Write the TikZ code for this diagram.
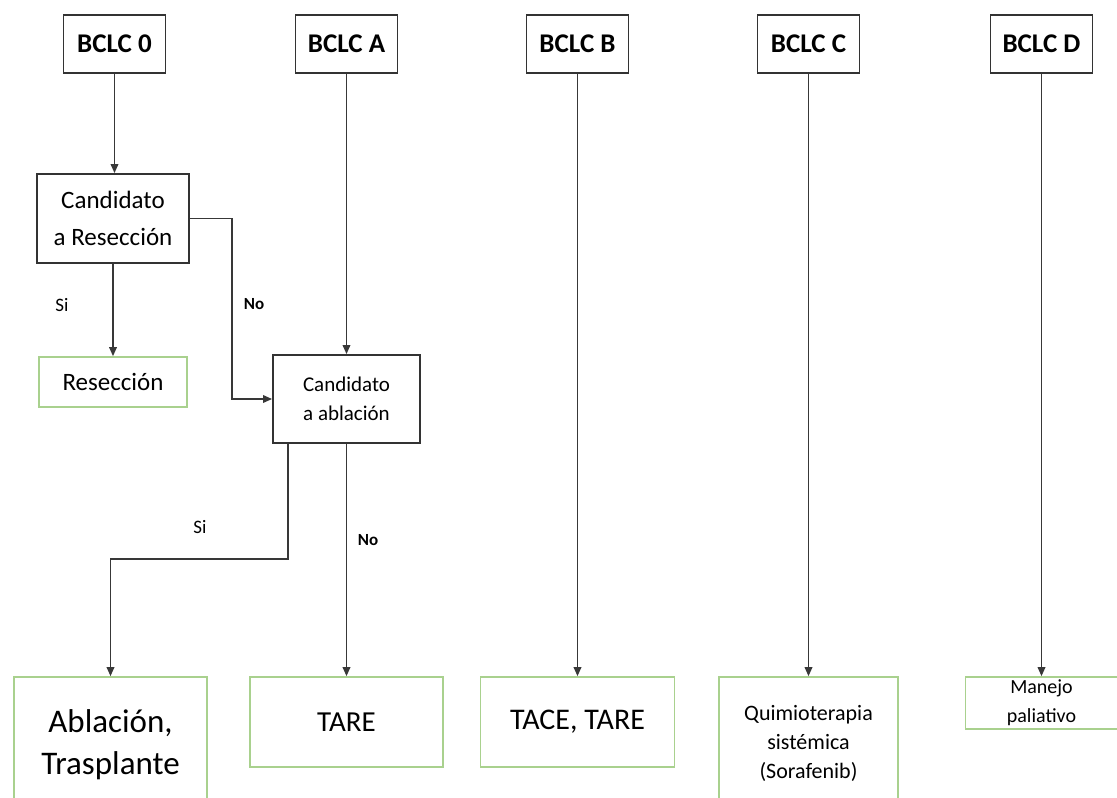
\documentclass[tikz,border=0pt]{standalone}
\usepackage{fontspec}
\setmainfont{Carlito}
\usetikzlibrary{arrows.meta}

\begin{document}
\begin{tikzpicture}[
        x=1pt,y=-1pt,
        stage/.style={draw=black!80,line width=1.8pt,fill=white,inner sep=0pt,
            minimum width=102pt,minimum height=58pt,
            font=\bfseries\fontsize{27}{30}\selectfont},
        question/.style={draw=black!80,line width=1.8pt,fill=white,inner sep=0pt,align=center},
        therapy/.style={draw={rgb,255:red,169;green,209;blue,142},
            line width=1.6pt,fill=white,inner sep=0pt,align=center},
        flow/.style={draw=black!78,line width=1.7pt,-{Triangle[length=9pt,width=7.5pt]}},
        answer/.style={inner sep=0pt,font=\fontsize{19}{22}\selectfont},
        answerbold/.style={inner sep=0pt,font=\bfseries\fontsize{17}{20}\selectfont}
    ]
    \useasboundingbox (0,0) rectangle (1117,798);

    % stages
    \node[stage] (bclc0) at (114.5,44) {BCLC 0};
    \node[stage] (bclcA) at (346.5,44) {BCLC A};
    \node[stage] (bclcB) at (577.5,44) {BCLC B};
    \node[stage] (bclcC) at (808.5,44) {BCLC C};
    \node[stage] (bclcD) at (1041.5,44) {BCLC D};

    % decisions
    \node[question,minimum width=152pt,minimum height=89pt,
        font=\fontsize{25}{37}\selectfont] (candres) at (113,218.5)
        {Candidato\\a Resección};
    \node[question,minimum width=147pt,minimum height=88pt,
        font=\fontsize{21}{29}\selectfont] (candabl) at (346.5,399)
        {Candidato\\a ablación};

    % treatments
    \node[therapy,minimum width=148pt,minimum height=50pt,
        font=\fontsize{25}{30}\selectfont] (resec) at (113,382) {Resección};
    \node[therapy,minimum width=193pt,minimum height=135pt,
        font=\fontsize{33}{42}\selectfont] (abltx) at (110.5,744.5)
        {Ablación,\\Trasplante};
    \node[therapy,minimum width=193pt,minimum height=90pt,
        font=\fontsize{29}{34}\selectfont] (tare) at (346.5,722) {TARE};
    \node[therapy,minimum width=194pt,minimum height=90pt,
        font=\fontsize{30}{34}\selectfont] (tace) at (577.5,722) {TACE, TARE};
    \node[therapy,minimum width=179pt,minimum height=132pt,
        font=\fontsize{22}{29}\selectfont] (quimio) at (808.5,743)
        {Quimioterapia\\sistémica\\(Sorafenib)};
    \node[therapy,minimum width=152pt,minimum height=52pt,
        font=\fontsize{20}{29}\selectfont] (manejo) at (1041.5,703)
        {Manejo\\paliativo};

    \coordinate (noknee) at (232,218.5);
    \coordinate (siknee) at (288,559);

    % connectors
    \draw[flow] (bclc0) -- (bclc0 |- candres.north);
    \draw[flow] (candres) -- (resec);
    \draw[flow] (candres.east) -| (noknee |- candabl.west) -- (candabl.west);
    \draw[flow] (bclcA) -- (candabl);
    \draw[flow] (candabl.south -| siknee) -- (siknee) -| (abltx.north);
    \draw[flow] (candabl) -- (tare);
    \draw[flow] (bclcB) -- (tace);
    \draw[flow] (bclcC) -- (quimio);
    \draw[flow] (bclcD) -- (manejo);

    \node[answer] (si1) at (62,305) {Si};
    \node[answerbold] (no1) at (254,304) {No};
    \node[answer] (si2) at (200,527) {Si};
    \node[answerbold] (no2) at (368,540) {No};
\end{tikzpicture}
\end{document}
